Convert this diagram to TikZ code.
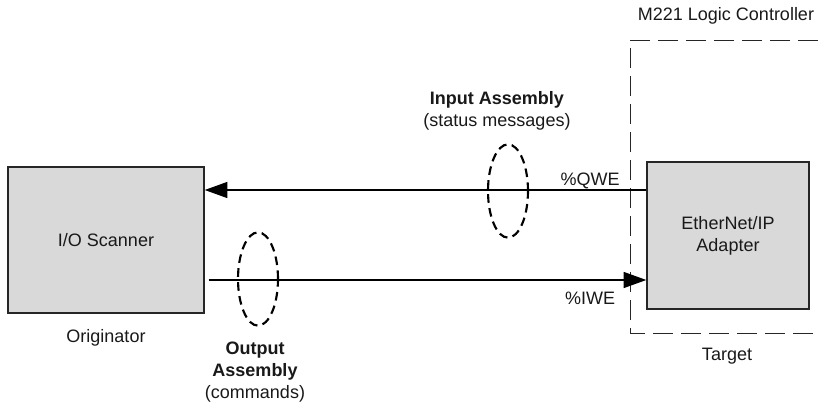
\documentclass[tikz,border=0pt]{standalone}
\usepackage{fontspec}
\setmainfont{Liberation Sans}
\usetikzlibrary{arrows.meta,shapes.geometric}

\begin{document}
\begin{tikzpicture}[
  x=0.75pt, y=-0.75pt,
  every node/.style={font=\fontsize{13.5}{16.5}\selectfont, text=black!90},
  unit/.style={draw=black!85, line width=1.1pt, fill=black!15, align=center},
  flow/.style={line width=1.1pt, -{Triangle[length=17pt,width=12pt]}},
  assembly/.style={ellipse, draw, line width=1.6pt, dash pattern=on 6.5pt off 4pt,
    minimum width=30pt, minimum height=70pt, inner sep=0pt},
  ctrlbox/.style={line width=0.7pt, draw=black!85, dash pattern=on 15pt off 6pt}
]
\useasboundingbox (0,0) rectangle (818,407);

% devices
\node[unit, minimum width=147pt, minimum height=109.5pt] (scanner) at (106,240) {I/O Scanner};
\node[unit, minimum width=121.5pt, minimum height=110pt] (adapter) at (728,235.5) {EtherNet/IP\\Adapter};
\node (originator) at (106,338) {Originator};
\node (target) at (727,356) {Target};

% controller frame, open to the right
\draw[ctrlbox] (818,40) -| (630,333) -- (818,333);
\node (m221) at (726,16) {M221 Logic Controller};

% data paths
\coordinate (qwe) at (0,190);
\coordinate (iwe) at (0,280);
\draw[flow] (qwe -| adapter.west) -- (qwe -| scanner.east);
\draw[flow] ([xshift=3pt]iwe -| scanner.east) -- (iwe -| adapter.west);
\node (qwelabel) at (590,181) {\%QWE};
\node (iwelabel) at (590,298) {\%IWE};

% assemblies
\node[assembly] (inring) at (508,191) {};
\node[assembly] (outring) at (258,279) {};
\node[align=center] (inlabel) at (497,111) {\textbf{Input Assembly}\\(status messages)};
\node[align=center] (outlabel) at (255,372) {\textbf{Output}\\\textbf{Assembly}\\(commands)};
\end{tikzpicture}
\end{document}
